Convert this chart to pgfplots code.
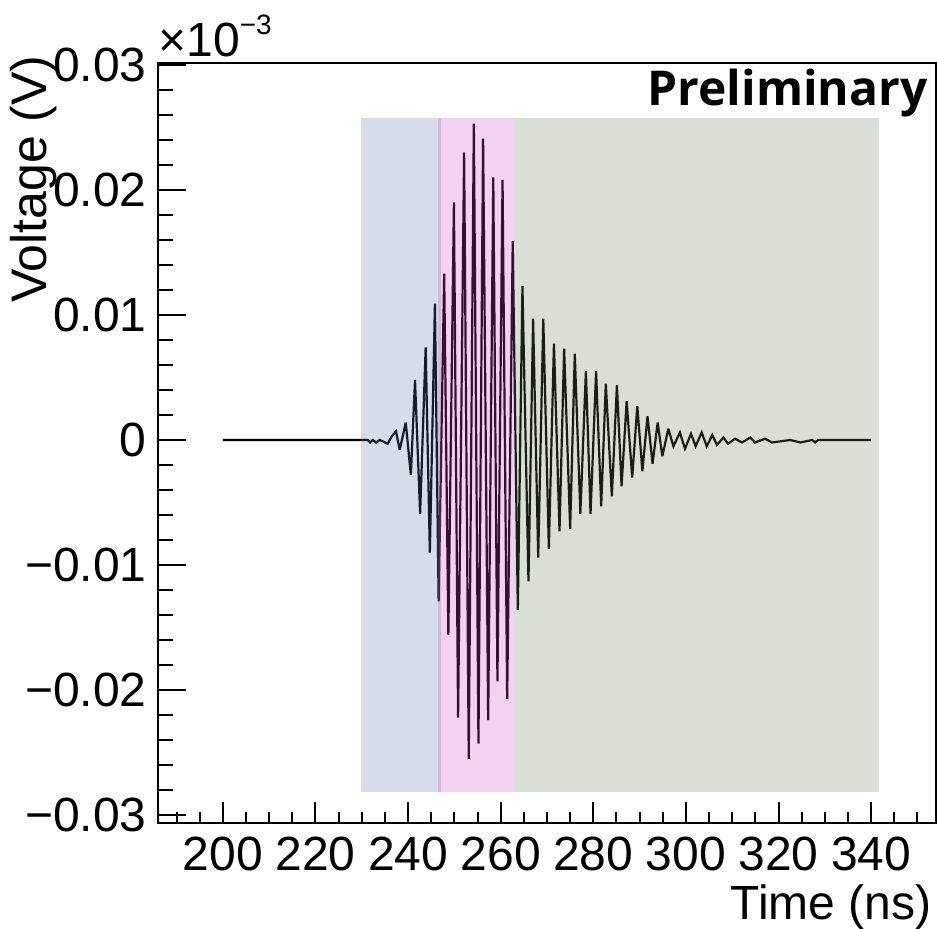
\documentclass[border=0pt]{standalone}
\usepackage{fontspec}
\setmainfont{Liberation Sans}
\newfontfamily\opensans{Open Sans}
\usepackage{pgfplots}
\pgfplotsset{compat=1.18}
\definecolor{bandblue}{RGB}{91,115,163}
\definecolor{bandpink}{RGB}{207,75,195}
\definecolor{bandgreen}{RGB}{107,127,91}
\newcommand{\rootfont}{\fontsize{24}{28}\selectfont}
\begin{document}
\begin{tikzpicture}
\begin{axis}[
  name=ax,
  scale only axis,
  width=389pt, height=380pt,
  xmin=186, xmax=354,
  ymin=-0.03064, ymax=0.03016,
  clip=false,
  axis line style={line width=1pt},
  tick style={line width=1pt, black},
  tick align=inside,
  xtick pos=left, ytick pos=left,
  xtick={200,220,...,340},
  xticklabels={200,220,240,260,280,300,320,340},
  ytick={-0.03,-0.02,-0.01,0,0.01,0.02,0.03},
  yticklabels={−0.03,−0.02,−0.01,0,0.01,0.02,0.03},
  minor xtick={190,195,...,350},
  minor ytick={-0.03,-0.028,...,0.031},
  major tick length=12pt, minor tick length=6pt,
  x tick style={/pgfplots/major tick length=10.5pt,/pgfplots/minor tick length=5.5pt},
  y tick style={/pgfplots/major tick length=14pt,/pgfplots/minor tick length=7.5pt},
  scaled y ticks=false,
  tick label style={font=\rootfont},
  xticklabel style={anchor=north, inner sep=0pt, yshift=-7pt},
  yticklabel style={anchor=east, inner sep=0pt, xshift=-5.5pt},
]
% waveform (peaks and troughs)
\addplot[black, line width=1.1pt, line join=miter, miter limit=3] coordinates {
(200,0) (231.3,0) (231.8,-0.0002) (232.4,0) (233.1,-0.0002) (233.9,0)
(235.6,-0.0003) (236.5,0.0003) (237.4,0.0007) (238.2,-0.0008) (239.5,0.0014)
(240.6,-0.0028) (241.5,0.0048) (242.6,-0.0059) (243.8,0.0074) (244.7,-0.0090)
(245.8,0.0109) (246.6,-0.0129) (247.8,0.0133) (248.7,-0.0156) (249.9,0.0190)
(250.8,-0.0222) (252.1,0.0230) (253.1,-0.0255) (254.2,0.0253) (255.2,-0.0243)
(256.2,0.0241) (257.3,-0.0224) (258.4,0.0210) (259.3,-0.0193) (260.4,0.0208)
(261.4,-0.0207) (262.6,0.0159) (263.7,-0.0136) (264.7,0.0123) (266.0,-0.0113)
(267.0,0.0097) (268.1,-0.0094) (269.2,0.0097) (270.4,-0.0087) (271.5,0.0077)
(272.7,-0.0073) (273.7,0.0073) (275.0,-0.0071) (276.0,0.0069) (277.2,-0.0059)
(278.4,0.0055) (279.4,-0.0059) (280.6,0.0055) (281.7,-0.0053) (282.7,0.0045)
(284.0,-0.0045) (285.1,0.0044) (286.1,-0.0037) (287.2,0.0031) (288.4,-0.0030)
(289.5,0.0027) (290.6,-0.0025) (291.7,0.0019) (292.8,-0.0019) (293.9,0.0014)
(294.9,-0.0013) (296.2,0.0009) (297.3,-0.0005) (298.7,0.0006) (299.8,-0.0007)
(301.1,0.0005) (302.1,-0.0005) (303.4,0.0006) (304.5,-0.0005) (305.7,0.0004)
(306.7,-0.0004) (308.1,0.0002) (309.1,-0.0003) (310.6,0.0001) (312.1,-0.0002)
(313.9,0.0002) (314.9,-0.0002) (317.1,0.0001) (318.6,-0.0002) (322.5,0)
(324.7,-0.0002) (327.3,0) (327.9,-0.0002) (328.5,0) (340,0)
};
% shaded windows
\addplot[draw=none, fill=bandblue, fill opacity=0.25] coordinates {
(229.8,-0.02813) (247.1,-0.02813) (247.1,0.02574) (229.8,0.02574)} -- cycle;
\addplot[draw=none, fill=bandpink, fill opacity=0.25] coordinates {
(246.4,-0.02813) (262.9,-0.02813) (262.9,0.02574) (246.4,0.02574)} -- cycle;
\addplot[draw=none, fill=bandgreen, fill opacity=0.25] coordinates {
(262.9,-0.02813) (341.7,-0.02813) (341.7,0.02574) (262.9,0.02574)} -- cycle;

\node[anchor=base west, inner sep=0pt, font=\rootfont] at ([yshift=3pt]rel axis cs:0,1)
  {×10\raisebox{11pt}{\fontsize{14}{14}\selectfont −3}};
\node[anchor=base east, inner sep=0pt, font=\rootfont\opensans\bfseries]
  at ([xshift=-4pt,yshift=-21.5pt]rel axis cs:1,1) {Preliminary};
\node[anchor=base east, inner sep=0pt, rotate=90, font=\fontsize{25}{29}\selectfont]
  at ([xshift=-55.5pt,yshift=4pt]rel axis cs:0,1) {Voltage (V)};
\node[anchor=base east, inner sep=0pt, font=\rootfont]
  at ([xshift=-2pt,yshift=-48.5pt]rel axis cs:1,0) {Time (ns)};
\end{axis}
\pgfresetboundingbox
\path[use as bounding box] ([shift={(-79pt,-53pt)}]ax.south west)
  rectangle ([shift={(0.5pt,31.5pt)}]ax.north east);
\end{tikzpicture}
\end{document}
